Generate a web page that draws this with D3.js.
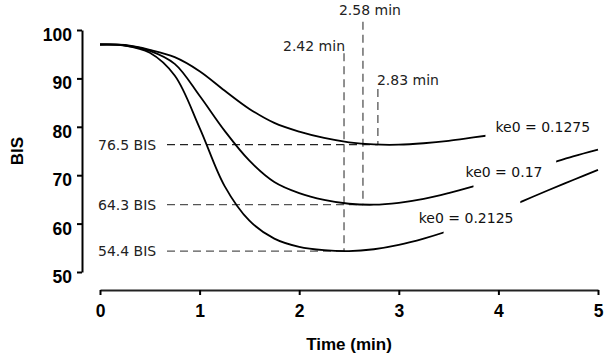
<!DOCTYPE html>
<html><head><meta charset="utf-8">
<script src="https://cdn.jsdelivr.net/npm/d3@7"></script>
<style>body{margin:0;background:#fff}svg{display:block}</style>
</head><body><svg id="c" width="606" height="364"></svg>
<script>
const times = [0,0.25,0.5,0.75,1,1.25,1.5,1.75,2,2.25,2.5,2.75,3,3.25,3.5,3.75,4,4.25,4.5,4.75,5];
const bisKe01275 = [97.0,96.9,95.9,94.4,91.5,87.5,83.7,80.8,79.0,77.7,76.8,76.35,76.3,76.6,77.1,77.8,78.5,79.2,79.9,80.7,81.4];
const bisKe017   = [97.0,96.8,95.7,93.0,86.4,79.2,73.0,68.6,66.3,64.9,64.1,63.9,64.3,65.1,66.3,67.7,69.2,70.7,72.3,73.9,75.3];
const bisKe02125 = [97.0,96.8,95.3,90.6,79.8,67.8,60.6,56.9,55.2,54.5,54.3,54.7,55.6,56.9,58.5,60.4,62.5,64.7,66.9,69.0,71.1];
const seriesNames = ["ke0 = 0.1275","ke0 = 0.17","ke0 = 0.2125"];
const minTimes = [2.79, 2.64, 2.45];
const minBIS = [76.3, 63.9, 54.3];
const minTimeLabels = ["2.83 min","2.58 min","2.42 min"];
const minBISLabels = ["76.5 BIS","64.3 BIS","54.4 BIS"];
const xTicks = [0,1,2,3,4,5];
const yTicks = [50,60,70,80,90,100];

// annotation placement (data units)
const labelPos = [[3.97, 78.9],[3.67, 69.6],[3.20, 60.2]];
const labelGaps = [[3.87, 5.2],[3.75, 4.58],[3.45, 4.22]];
const vTops = [87.8, 101.7, 95.2];

const series = [bisKe01275, bisKe017, bisKe02125];

const svg = d3.select("#c");
svg.append("rect").attr("width",606).attr("height",364).attr("fill","#fff");

const x = d3.scaleLinear().domain([0,5]).range([100,598]);
const y = d3.scaleLinear().domain([50,100]).range([272,30]);

const AX_FONT = "'Liberation Sans', Arial, sans-serif";
const AN_FONT = "'DejaVu Sans', sans-serif";

// axes
const yAxis = svg.append("g").attr("transform","translate(82,0)")
  .call(d3.axisLeft(y).tickValues(yTicks).tickSize(5).tickSizeOuter(0).tickPadding(5));
yAxis.select(".domain").attr("stroke","#000").attr("stroke-width",2);
yAxis.selectAll(".tick line").attr("stroke","#000").attr("stroke-width",2);
yAxis.selectAll(".tick text").attr("font-family",AX_FONT).attr("font-weight","bold")
  .attr("font-size",17.5).attr("fill","#000").attr("dy","0.6em");

const xAxis = svg.append("g").attr("transform","translate(0,290)")
  .call(d3.axisBottom(x).tickValues(xTicks).tickFormat(d3.format("d")).tickSize(5).tickSizeOuter(0).tickPadding(10));
xAxis.select(".domain").attr("stroke","#222").attr("stroke-width",2);
xAxis.selectAll(".tick line").attr("stroke","#000").attr("stroke-width",2);
xAxis.selectAll(".tick text").attr("font-family",AX_FONT).attr("font-weight","bold")
  .attr("font-size",17.5).attr("fill","#000");

svg.append("text").attr("transform","translate(23,151) rotate(-90)")
  .attr("text-anchor","middle").attr("font-family",AX_FONT).attr("font-weight","bold")
  .attr("font-size",17).text("BIS");
svg.append("text").attr("x",349).attr("y",350)
  .attr("text-anchor","middle").attr("font-family",AX_FONT).attr("font-weight","bold")
  .attr("font-size",17).text("Time (min)");

// dashed guide lines
const dashColors = ["#222","#555","#555"];
minBIS.forEach((b,i)=>{
  svg.append("line").attr("x1",167).attr("x2",x(minTimes[i]))
    .attr("y1",y(b)).attr("y2",y(b))
    .attr("stroke",dashColors[i]).attr("stroke-width",1.3).attr("stroke-dasharray","8,5");
  svg.append("line").attr("x1",x(minTimes[i])).attr("x2",x(minTimes[i]))
    .attr("y1",y(vTops[i])).attr("y2",y(b))
    .attr("stroke","#555").attr("stroke-width",1.3).attr("stroke-dasharray","8,5");
  svg.append("text").attr("x",98).attr("y",y(b)).attr("dy","0.36em")
    .attr("font-family",AN_FONT).attr("font-size",14).attr("fill","#222").text(minBISLabels[i]);
});

// min time labels
const tLabelOffsets = [[-1,-4,"start"],[-24,-7,"start"],[1,-2,"end"]];
minTimeLabels.forEach((t,i)=>{
  const o = tLabelOffsets[i];
  svg.append("text").attr("x",x(minTimes[i])+o[0]).attr("y",y(vTops[i])+o[1])
    .attr("text-anchor",o[2])
    .attr("font-family",AN_FONT).attr("font-size",14).attr("fill","#222").text(t);
});

// curves, clipped around their inline labels
const defs = svg.append("defs");
const line = d3.line().x((d,i)=>x(times[i])).y(d=>y(d)).curve(d3.curveCatmullRom.alpha(0.5));
series.forEach((s,i)=>{
  const g = labelGaps[i];
  defs.append("clipPath").attr("id","cl"+i).append("rect")
    .attr("x",0).attr("y",0).attr("width",x(g[0])).attr("height",364);
  defs.append("clipPath").attr("id","cr"+i).append("rect")
    .attr("x",x(g[1])).attr("y",0).attr("width",606).attr("height",364);
  ["cl","cr"].forEach(c=>{
    svg.append("path").datum(s).attr("d",line)
      .attr("clip-path",`url(#${c}${i})`)
      .attr("fill","none").attr("stroke","#000").attr("stroke-width",1.8);
  });
  svg.append("text").attr("x",x(labelPos[i][0])).attr("y",y(labelPos[i][1]))
    .attr("font-family",AN_FONT).attr("font-size",14).attr("fill","#111").text(seriesNames[i]);
});
</script></body></html>
